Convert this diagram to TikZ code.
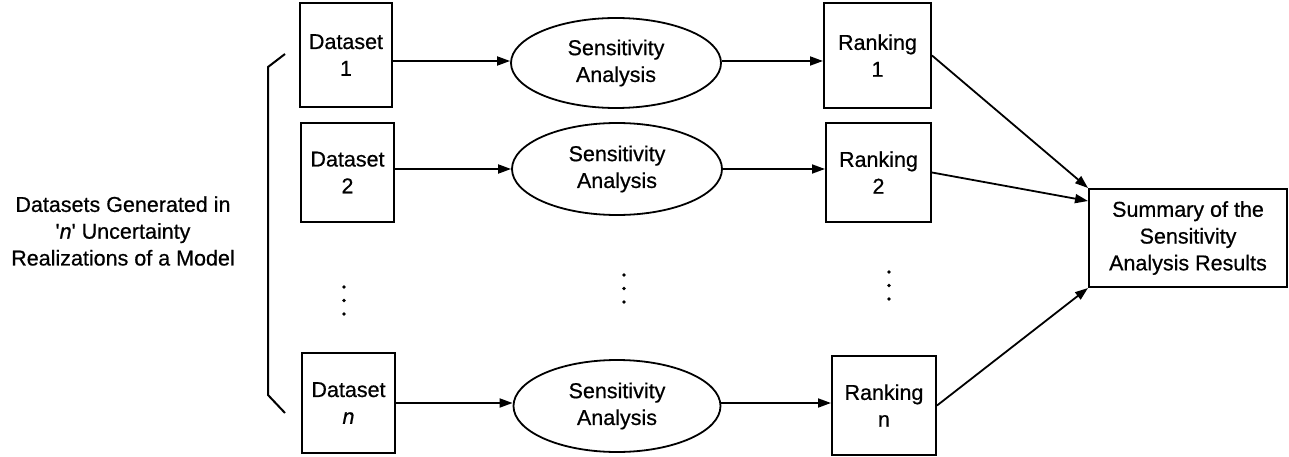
\documentclass[tikz,border=0pt]{standalone}
\usepackage{fontspec}
\setmainfont[FakeBold=0.6,AutoFakeBold=0.6]{Liberation Sans}
\usetikzlibrary{shapes.geometric,arrows.meta,calc}
\begin{document}
\begin{tikzpicture}[x=1pt,y=-1pt,
  every node/.style={font=\fontsize{21.5}{26.8}\selectfont\bfseries, align=center, inner sep=0pt},
  box/.style={draw, line width=2pt, rectangle},
  oval/.style={draw, line width=1.8pt, ellipse},
  flow/.style={line width=1.8pt, -{Triangle[length=13pt,width=9pt]}},
  dot/.style={fill, circle, minimum size=3.8pt, inner sep=0pt, draw=none}]
\useasboundingbox (0,0) rectangle (1289,457);

% datasets
\node[box, minimum width=92pt, minimum height=104pt] (d1) at (346,55) {Dataset\\1};
\node[box, minimum width=93pt, minimum height=99pt] (d2) at (347.5,172.5) {Dataset\\2};
\node[box, minimum width=93pt, minimum height=100pt] (dn) at (348.5,403) {Dataset\\\textit{n}};

% sensitivity analyses
\node[oval, minimum width=210pt, minimum height=90pt] (e1) at (616,63) {Sensitivity\\Analysis};
\node[oval, minimum width=210pt, minimum height=92pt] (e2) at (617,169) {Sensitivity\\Analysis};
\node[oval, minimum width=207pt, minimum height=92pt] (en) at (617,406) {Sensitivity\\Analysis};

% rankings
\node[box, minimum width=107pt, minimum height=105pt] (r1) at (877.5,55.5) {Ranking\\1};
\node[box, minimum width=105pt, minimum height=99pt] (r2) at (878.5,172.5) {Ranking\\2};
\node[box, minimum width=104pt, minimum height=99pt] (rn) at (884,405.5) {Ranking\\n};

% summary
\node[box, minimum width=198pt, minimum height=98pt] (sum) at (1188,238) {Summary of the\\Sensitivity\\Analysis Results};

% left label and bracket
\node (lab) at (123,231) {Datasets Generated in\\\textquotesingle\textit{n}\textquotesingle{} Uncertainty\\Realizations of a Model};
\coordinate (bt) at (285,54);
\coordinate (bb) at (285,413);
\draw[line width=2pt] (bt) -- (268,67) -- (268,395) -- (bb);

% ellipsis dots
\foreach \x/\y in {344/287, 624/275, 889/272} {
  \node[dot] at (\x,\y) {};
  \node[dot] at (\x,\y+13.5) {};
  \node[dot] at (\x,\y+27) {};
}

% connectors
\draw[flow] (d1.east |- e1.west) ++(0,-2) -- ($(e1.west)+(0,-2)$);
\draw[flow] ($(e1.east)+(0,-2)$) -- ($(e1.east -| r1.west)+(0,-2)$);
\draw[flow] (d2.east |- e2.west) -- (e2.west);
\draw[flow] (e2.east) -- (e2.east -| r2.west);
\draw[flow] (dn.east |- en.west) ++(0,-3) -- ($(en.west)+(0,-3)$);
\draw[flow] ($(en.east)+(0,-3)$) -- ($(en.east -| rn.west)+(0,-3)$);

\draw[flow] (r1.east) -- (sum.north west);
\draw[flow] (r2.east) -- ($(sum.north west)+(0,13)$);
\draw[flow] (rn.east) -- (sum.south west);
\end{tikzpicture}
\end{document}
